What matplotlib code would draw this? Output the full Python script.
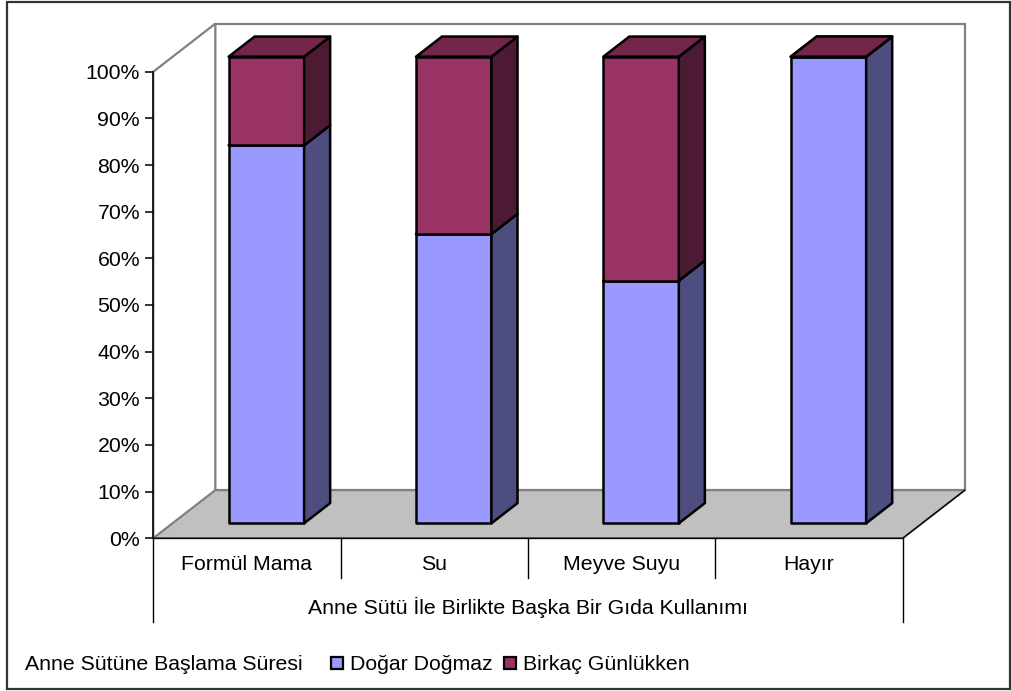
import matplotlib.pyplot as plt
from matplotlib.patches import Polygon, Rectangle, Patch

plt.rcParams['font.family'] = ['Liberation Sans', 'DejaVu Sans']

categories = ['Formül Mama', 'Su', 'Meyve Suyu', 'Hayır']
dogar_dogmaz = [81, 62, 52, 100]
birkac_gunlukken = [19, 38, 48, 0]
series_names = ['Doğar Doğmaz', 'Birkaç Günlükken']
x_title = 'Anne Sütü İle Birlikte Başka Bir Gıda Kullanımı'
legend_title = 'Anne Sütüne Başlama Süresi'
yticks = list(range(0, 101, 10))

# face colours per series: front, side, top
faces = [
    ('#9999ff', '#4d4d80', '#73739f'),
    ('#993366', '#4d1a33', '#732649'),
]

# oblique depth of the plot box (category units, percent units)
DX, DY = 0.331, 10.29
BAR_W = 0.403
BAR_FRONT, BAR_DEPTH = 0.3125, 0.42
FS = 15.3

W, H = 1012, 691
fig = plt.figure(figsize=(W / 100, H / 100), dpi=100)
left, right, bottom, top = 153.3, 902.7, 538.3, 71.7
ax = fig.add_axes([left / W, 1 - bottom / H, (right - left) / W, (bottom - top) / H])
ax.set_xlim(0, len(categories))
ax.set_ylim(0, 100)
ax.patch.set_visible(False)
for s in ['top', 'right', 'bottom']:
    ax.spines[s].set_visible(False)
ax.spines['left'].set_linewidth(1.1)
ax.spines['left'].set_zorder(5)
ax.set_xticks([])
ax.set_yticks(yticks)
ax.set_yticklabels([f'{v}%' for v in yticks], fontsize=FS)
ax.tick_params(axis='y', direction='out', length=6, width=1.1, pad=3.5)

n = len(categories)
gray = '#808080'

# back wall, left wall and floor
ax.add_patch(Polygon([(DX, DY), (n + DX, DY), (n + DX, 100 + DY), (DX, 100 + DY)],
                     facecolor='white', edgecolor=gray, lw=1.6, clip_on=False, zorder=1))
ax.add_patch(Polygon([(0, 0), (DX, DY), (DX, 100 + DY), (0, 100)],
                     facecolor='white', edgecolor=gray, lw=1.6, clip_on=False, zorder=1))
ax.add_patch(Polygon([(0, 0), (n, 0), (n + DX, DY), (DX, DY)],
                     facecolor='#c0c0c0', edgecolor=gray, lw=1.4, clip_on=False, zorder=2))
ax.plot([0, n, n + DX], [0, 0, DY], color='black', lw=1.0, clip_on=False, zorder=3)

# stacked 3-d columns
dx, dy = BAR_DEPTH * DX, BAR_DEPTH * DY
for i in range(n):
    x0 = i + 0.5 - BAR_W / 2 + BAR_FRONT * DX
    x1 = x0 + BAR_W
    base = BAR_FRONT * DY
    for vals, (fc, sc, tc) in zip([dogar_dogmaz, birkac_gunlukken], faces):
        y0, y1 = base, base + vals[i]
        kw = dict(edgecolor='black', lw=1.8, joinstyle='round', clip_on=False, zorder=4)
        ax.add_patch(Polygon([(x0, y0), (x1, y0), (x1, y1), (x0, y1)], facecolor=fc, **kw))
        ax.add_patch(Polygon([(x1, y0), (x1 + dx, y0 + dy), (x1 + dx, y1 + dy), (x1, y1)],
                             facecolor=sc, **kw))
        ax.add_patch(Polygon([(x0, y1), (x1, y1), (x1 + dx, y1 + dy), (x0 + dx, y1 + dy)],
                             facecolor=tc, **kw))
        base = y1

# category table below the floor
tr = ax.get_xaxis_transform()
for i in range(1, n):
    ax.plot([i, i], [0, -0.085], color='black', lw=1.0, transform=tr, clip_on=False)
for xe in (0, n):
    ax.plot([xe, xe], [0, -0.179], color='black', lw=1.0, transform=tr, clip_on=False)
for i, c in enumerate(categories):
    ax.text(i + 0.5, -0.056, c, transform=tr, ha='center', va='center', fontsize=FS)
ax.text(n / 2, -0.148, x_title, transform=tr, ha='center', va='center', fontsize=FS)

# legend row
fig.text(25 / W, 1 - 665 / H, legend_title, ha='left', va='center', fontsize=FS)
handles = [Patch(facecolor=f[0], edgecolor='black', lw=1.6) for f in faces]
fig.legend(handles, series_names, loc='center left', bbox_to_anchor=(331 / W, 1 - 665 / H),
           ncol=2, frameon=False, fontsize=FS, handlelength=0.56, handleheight=0.56,
           handletextpad=0.33, columnspacing=0.56, borderpad=0, borderaxespad=0)

# chart border
fig.add_artist(Rectangle((7 / W, 2 / H), 1003 / W, 687 / H, transform=fig.transFigure,
                         fill=False, edgecolor='#333333', lw=1.6))

fig.savefig('out.png', dpi=100)
